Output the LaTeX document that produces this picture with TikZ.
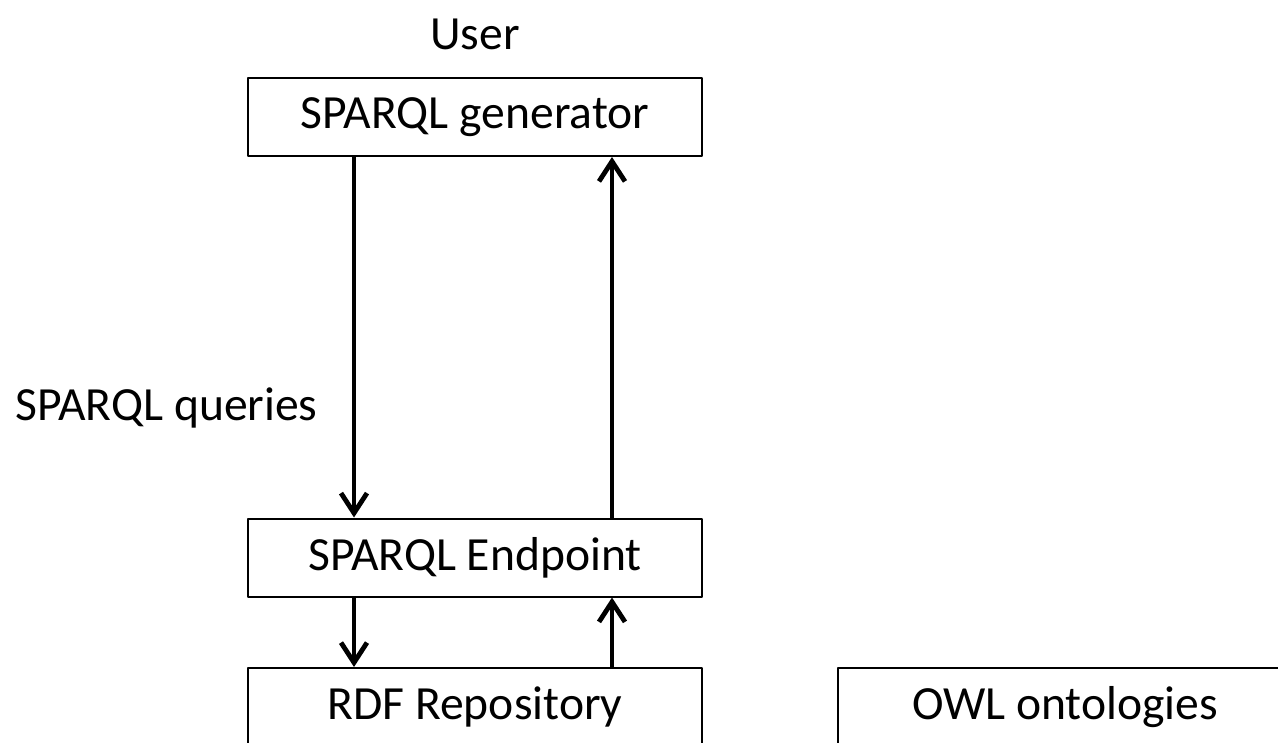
\documentclass[tikz,border=0pt]{standalone}
\usepackage{fontspec}
\setmainfont{Carlito}
\usetikzlibrary{arrows.meta}
\begin{document}
\begin{tikzpicture}[x=0.5pt, y=-0.5pt, line join=round,
		box/.style={draw, line width=1pt, minimum width=227pt, minimum height=39pt, inner sep=0pt},
		flow/.style={line width=2.4pt, -{Straight Barb[length=10pt, width=13pt, line width=2.4pt]}}]
				\useasboundingbox (0,0) rectangle (1278,743);
				\clip (0,0) rectangle (1278,743);
				\fontsize{23.8}{28}\selectfont
				
				\coordinate (D) at (354,0);
				\coordinate (U) at (612,0);
				
				\node (user) at (475,34) {User};
				\node[box] (gen) at (475,117) {SPARQL generator};
				\node[box] (ep) at (475,557.5) {SPARQL Endpoint};
				\node[box] (rdf) at (475,707) {RDF Repository};
				\node[box] (owl) at (1065,707) {OWL ontologies};
				
				\node[anchor=base west, inner sep=0pt] (q) at (15,420) {SPARQL queries};
				
				\draw[flow] (gen.south -| D) -- (ep.north -| D);
				\draw[flow] (ep.north -| U) -- (gen.south -| U);
				\draw[flow] (ep.south -| D) -- (rdf.north -| D);
				\draw[flow] (rdf.north -| U) -- (ep.south -| U);
			\end{tikzpicture}
\end{document}
